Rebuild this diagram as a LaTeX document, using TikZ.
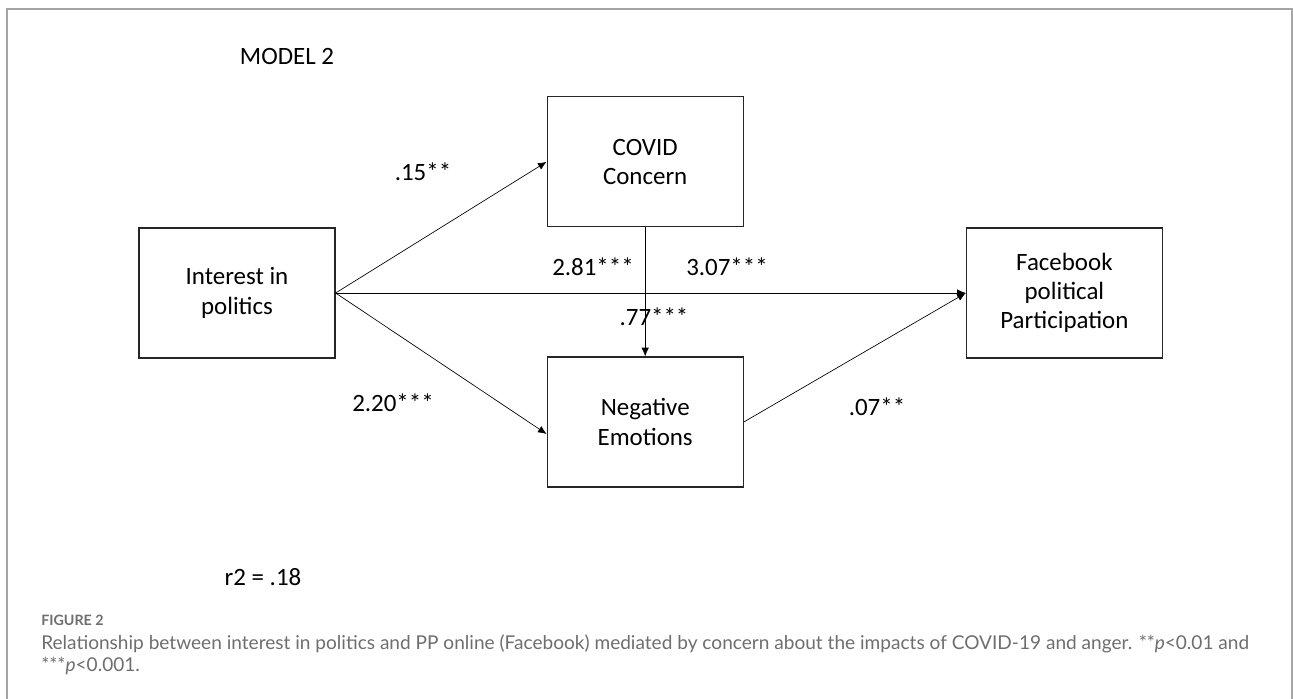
\documentclass[tikz,border=0pt]{standalone}
\usepackage{fontspec}
\setmainfont{Carlito}
\newfontfamily\capfont{Lato}
\usetikzlibrary{arrows.meta,positioning}
\definecolor{framegray}{RGB}{165,165,165}
\definecolor{capgray}{RGB}{110,110,110}

\begin{document}
\begin{tikzpicture}[x=0.75pt,y=-0.75pt]
  \tikzstyle{varbox}=[rectangle,draw=black!85,line width=0.9pt,minimum width=147pt,minimum height=97.5pt,inner sep=0pt,align=center,font=\fontsize{18.7}{22}\selectfont]
  \tikzstyle{coef}=[inner sep=0pt,font=\fontsize{18.7}{22}\selectfont]
  \tikzstyle{link}=[-{Latex[length=6.5pt,width=5.5pt]},line width=0.5pt]

  \useasboundingbox (0,0) rectangle (1293,699);
  \draw[framegray,line width=1.5pt] (7,710) -- (7,9) -- (1292,9) -- (1292,710);

  \node[varbox] (interest) at (237,293) {Interest in\\politics};
  \node[varbox,above right=0pt and 158.25pt of interest] (covid) {COVID\\Concern};
  \node[varbox,below=96.75pt of covid] (negemo) {Negative\\Emotions};
  \node[varbox,below right=0pt and 166.5pt of covid] (fbpp) {Facebook\\political\\Participation};

  \draw[link] (interest.east) -- (covid.west);
  \draw[link] (interest.east) -- ([yshift=-9pt]negemo.west);
  \draw[link] (interest.east) -- (fbpp.west);
  \draw[link] (covid.south) -- (negemo.north);
  \draw[link] (negemo.east) -- (fbpp.west);

  \node[coef] (model) at (287,56) {MODEL 2};
  \node[coef] (c15) at (423,172) {.15**};
  \node[coef] (c281) at (593,267) {2.81***};
  \node[coef] (c307) at (727,267) {3.07***};
  \node[coef] (c77) at (654,317) {.77***};
  \node[coef] (c220) at (393,403) {2.20***};
  \node[coef] (c07) at (877,407) {.07**};
  \node[coef] (rsq) at (263,577) {r2 = .18};

  \node[anchor=west,inner sep=0pt,text=capgray,font=\capfont\bfseries\fontsize{10.7}{12}\selectfont] (figlabel) at (41,620) {FIGURE 2};
  \node[anchor=north west,inner sep=0pt,align=left,text=capgray,font=\capfont\fontsize{14.3}{16.8}\selectfont] (caption) at (41,634) {Relationship between interest in politics and PP online (Facebook) mediated by concern about the impacts of COVID-19 and anger. **\textit{p}<0.01 and\\***\textit{p}<0.001.};
\end{tikzpicture}
\end{document}
